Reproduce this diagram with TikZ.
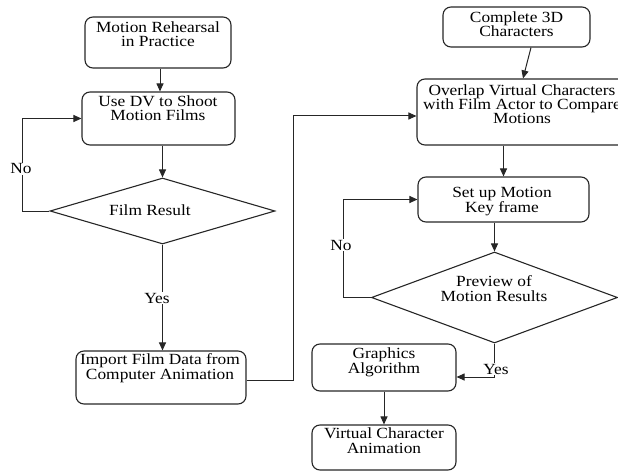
\documentclass[tikz,border=0pt]{standalone}
\usepackage{fontspec}
\setmainfont{Liberation Serif}[FakeStretch=1.12]
\usetikzlibrary{shapes.geometric,arrows.meta}

\begin{document}
\begin{tikzpicture}[x=1pt,y=-1pt,
  box/.style={draw=black!85, line width=1.1pt, rounded corners=8pt, inner sep=0pt},
  dec/.style={draw=black!85, line width=1.1pt, diamond, inner sep=0pt},
  txt/.style={align=center, inner sep=0pt, font=\fontsize{15.5}{14.4}\selectfont, anchor=base},
  lbl/.style={fill=white, inner sep=1pt, font=\fontsize{15.5}{14.4}\selectfont, anchor=base},
  conn/.style={draw=black!85, line width=1pt},
  arr/.style={conn, -{Triangle[length=8pt,width=7pt]}}]

\useasboundingbox (0,0) rectangle (618,473);

% ---- left column (text positions give the baseline of the last line) ----
\node[box, minimum width=146, minimum height=51] (b1) at (158,42.5) {};
\node[txt] (b1t) at (158,47) {Motion Rehearsal\\in Practice};

\node[box, minimum width=153, minimum height=53] (b2) at (158.5,118.5) {};
\node[txt] (b2t) at (158,121) {Use DV to Shoot\\Motion Films};

\node[dec, minimum width=225, minimum height=66] (d1) at (162.5,211) {};
\node[txt] (d1t) at (150,215) {Film Result};

\node[box, minimum width=170, minimum height=53] (b3) at (161,377.5) {};
\node[txt] (b3t) at (160,379) {Import Film Data from\\Computer Animation};

% ---- right column ----
\node[box, minimum width=147, minimum height=40] (c3d) at (516.5,27) {};
\node[txt] (c3dt) at (516.5,37) {Complete 3D\\Characters};

\node[box, minimum width=210, minimum height=66] (b4) at (522,112) {};
\node[txt] (b4t) at (522,124) {Overlap Virtual Characters\\with Film Actor to Compare\\Motions};

\node[box, minimum width=171, minimum height=45] (b5) at (503.5,199.5) {};
\node[txt] (b5t) at (502,212) {Set up Motion\\Key frame};

\node[dec, minimum width=246, minimum height=91] (d2) at (494.5,297.5) {};
\node[txt] (d2t) at (494,301) {Preview of\\Motion Results};

\node[box, minimum width=144, minimum height=47] (b6) at (384,367.5) {};
\node[txt] (b6t) at (384,373) {Graphics\\Algorithm};

\node[box, minimum width=144, minimum height=45] (b7) at (384,447.5) {};
\node[txt] (b7t) at (384,453) {Virtual Character\\Animation};

% ---- helper coordinates for the routed connectors ----
\coordinate (loopA) at (22,0);
\coordinate (bridge) at (293,0);
\coordinate (loopB) at (343,0);

% ---- connectors ----
\draw[arr] ([xshift=2]b1.south) -- ([xshift=2]b1.south |- b2.north);
\draw[arr] (d1.north |- b2.south) -- (d1.north);
\draw[arr] (d1.west) -- (d1.west -| loopA) |- (b2.west);
\node[lbl] (no1) at (21,174) {No};
\draw[arr] (d1.south) -- (d1.south |- b3.north);
\node[lbl] (yes1) at (157,303) {Yes};
\draw[arr] ([yshift=-2.5]b3.east) -- ([yshift=-2.5]b3.east -| bridge) |- ([yshift=-4]b4.west);

\draw[arr] ([xshift=14.5]c3d.south) -- ([xshift=1]b4.north);
\draw[arr] (b5.north |- b4.south) -- (b5.north);
\draw[arr] (d2.north |- b5.south) -- (d2.north);
\draw[arr] (d2.west) -- (d2.west -| loopB) |- (b5.west);
\node[lbl] (no2) at (341,250) {No};
\draw[arr] (d2.south) |- ([yshift=-9.5]b6.east);
\node[lbl] (yes2) at (496,374) {Yes};
\draw[arr] (b6.south) -- (b7.north);
\end{tikzpicture}
\end{document}
